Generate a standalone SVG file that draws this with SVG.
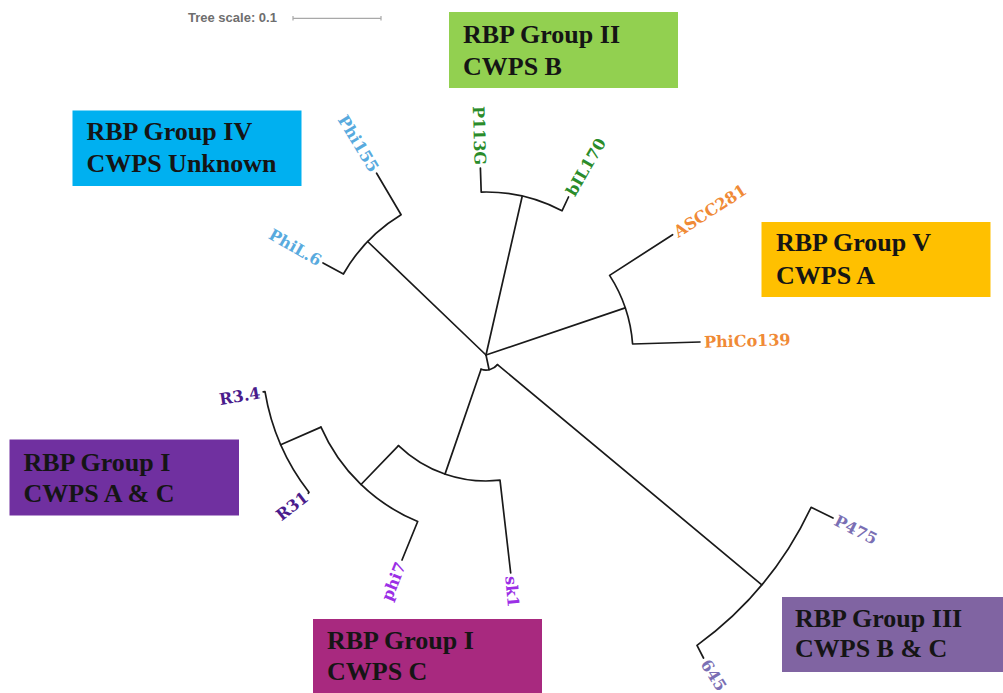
<svg xmlns="http://www.w3.org/2000/svg" width="1003" height="693" viewBox="0 0 1003 693">
<style>
.br{fill:none;stroke:#1a1a1a;stroke-width:1.7;stroke-linecap:round;stroke-linejoin:round}
.lf{font-family:"DejaVu Serif","Liberation Serif",serif;font-weight:bold;font-size:16px}
.bx{font-family:"Liberation Serif","Times New Roman",serif;font-weight:bold;font-size:26px;fill:#151515}
.sc{font-family:"Liberation Sans",Arial,sans-serif;font-weight:bold;font-size:13px;fill:#6e6e6e}
.c4{fill:#58aade}.c2{fill:#2a8c2a}.c5{fill:#f08a36}.c1a{fill:#4a1c8c}.c1c{fill:#9b2fe6}.c3{fill:#7a6fb4}
</style>
<rect width="1003" height="693" fill="#ffffff"/>

<g id="tree-scale">
<text class="sc" x="188" y="22">Tree scale: 0.1</text>
<path d="M293 18.3H381M293 16V20.5M381 16V20.5" stroke="#a8a8a8" stroke-width="1.2" fill="none"/>
</g>

<g id="connectors">
<path class="br" d="M486 355L367.6 241.5"/>
<path class="br" d="M486 355L522.1 196.7"/>
<path class="br" d="M486 355L625.2 307.9"/>
<path class="br" d="M486 355L489.1 369.7"/>
<path class="br" d="M481.1 369.2A15 15 0 0 0 497.5 364.6"/>
<path class="br" d="M376.6 173.2L401.1 214.7A164 164 0 0 0 343.4 274L323 263"/>
<path class="br" d="M480.4 168.1L481.2 192.1A163 163 0 0 1 562 210.8L568.5 197"/>
<path class="br" d="M672.6 234.7L609.6 275.4A147 147 0 0 1 632.6 344L700 342"/>
<path class="br" d="M497.5 364.6L761.8 584.8"/>
<path class="br" d="M833 518L811.1 507.3A359 359 0 0 1 697 645.4L703.5 658"/>
<path class="br" d="M481.1 369.2L445 474.1"/>
<path class="br" d="M398.5 445.6A126 126 0 0 0 500 480.2L510.7 573"/>
<path class="br" d="M398.5 445.6L361 484.5"/>
<path class="br" d="M321 427.1A180 180 0 0 0 417.7 521.5L402 560"/>
<path class="br" d="M321 427.1L280.7 444.7"/>
<path class="br" d="M263.2 391.9L265 391.6A224 224 0 0 0 309 492.3L308.3 493.3"/>
</g>

<g id="leaf-Phi155"><text class="lf c4" text-anchor="end" dy="0.36em" transform="translate(375 170.6) rotate(58.8)">Phi155</text></g>
<g id="leaf-PhiL6"><text class="lf c4" text-anchor="end" dy="0.36em" transform="translate(320.4 261.5) rotate(29.6)">PhiL.6</text></g>
<g id="leaf-P113G"><text class="lf c2" text-anchor="end" dy="0.36em" transform="translate(480.3 165.1) rotate(88.3)">P113G</text></g>
<g id="leaf-bIL170"><text class="lf c2" dy="0.36em" transform="translate(569.9 194.3) rotate(-60)">bIL170</text></g>
<g id="leaf-ASCC281"><text class="lf c5" dy="0.36em" transform="translate(675.1 233.1) rotate(-32.8)">ASCC281</text></g>
<g id="leaf-PhiCo139"><text class="lf c5" dy="0.36em" transform="translate(704 341.9) rotate(-1.7)">PhiCo139</text></g>
<g id="leaf-P475"><text class="lf c3" dy="0.36em" transform="translate(835.7 519.3) rotate(27)">P475</text></g>
<g id="leaf-645"><text class="lf c3" dy="0.36em" transform="translate(705 661) rotate(58)">645</text></g>
<g id="leaf-sk1"><text class="lf c1c" dy="0.36em" transform="translate(511 576) rotate(85)">sk1</text></g>
<g id="leaf-phi7"><text class="lf c1c" text-anchor="end" dy="0.36em" transform="translate(400.9 562.8) rotate(-68)">phi7</text></g>
<g id="leaf-R31"><text class="lf c1a" text-anchor="end" dy="0.36em" transform="translate(306 495.1) rotate(-37.8)">R31</text></g>
<g id="leaf-R3.4"><text class="lf c1a" text-anchor="end" dy="0.36em" transform="translate(260 392.5) rotate(-9.4)">R3.4</text></g>

<g id="box-group-II"><rect x="449" y="12" width="229" height="76" fill="#92d050"/>
<text class="bx" x="463" y="43">RBP Group II</text><text class="bx" x="463" y="75">CWPS B</text></g>
<g id="box-group-IV"><rect x="72.5" y="110.5" width="229" height="75.5" fill="#00b0f0"/>
<text class="bx" x="86.5" y="140">RBP Group IV</text><text class="bx" x="86.5" y="172">CWPS Unknown</text></g>
<g id="box-group-V"><rect x="761.5" y="222" width="229" height="75" fill="#ffc000"/>
<text class="bx" x="776" y="251">RBP Group V</text><text class="bx" x="776" y="284">CWPS A</text></g>
<g id="box-group-I-AC"><rect x="9.5" y="439.5" width="229.5" height="76" fill="#7030a0"/>
<text class="bx" x="23.5" y="471">RBP Group I</text><text class="bx" x="23.5" y="502">CWPS A &amp; C</text></g>
<g id="box-group-I-C"><rect x="313" y="619" width="229" height="74" fill="#a8297f"/>
<text class="bx" x="327" y="649">RBP Group I</text><text class="bx" x="327" y="680">CWPS C</text></g>
<g id="box-group-III"><rect x="782" y="597" width="221" height="75" fill="#8064a2"/>
<text class="bx" x="795" y="627">RBP Group III</text><text class="bx" x="795" y="657">CWPS B &amp; C</text></g>
</svg>
